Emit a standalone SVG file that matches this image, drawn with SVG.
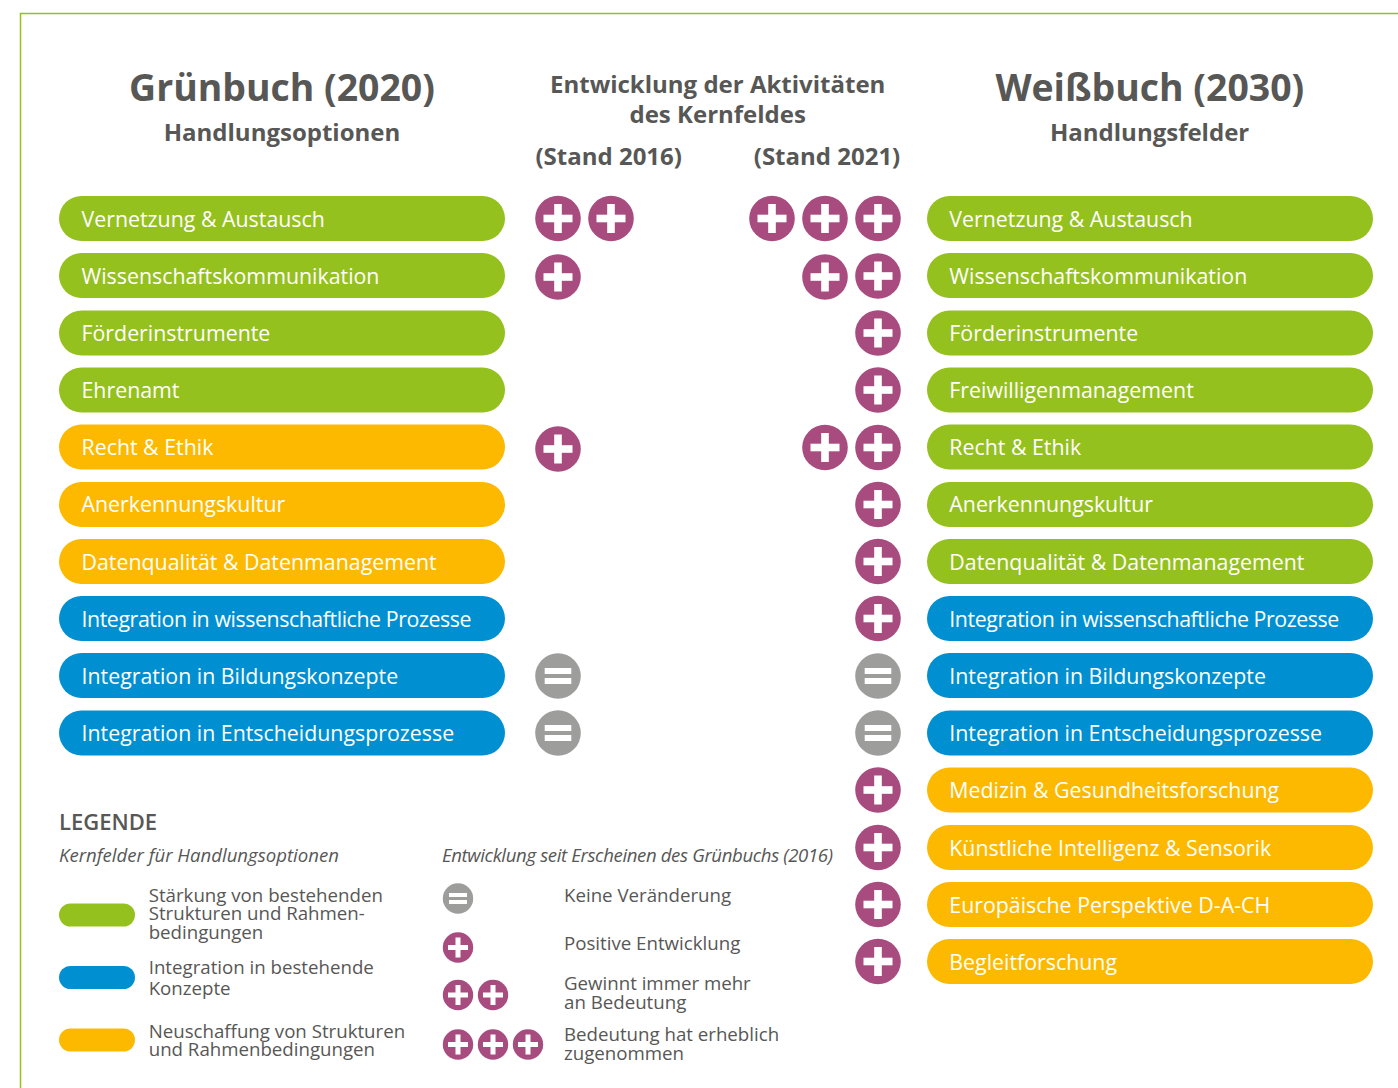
<svg xmlns="http://www.w3.org/2000/svg" width="1398" height="1088" viewBox="0 0 1398 1088">
<style>
text{font-family:"Open Sans","Liberation Sans",sans-serif;fill:#575756}
.h1{font-size:37.4px;font-weight:700;text-anchor:middle}
.h2{font-size:24px;font-weight:700;text-anchor:middle}
.p{font-size:21.35px;fill:#fff}
.l{font-size:18.68px}
.i{font-size:18.6px;font-style:italic}
.g{fill:#95c11f}.b{fill:#0090d1}.y{fill:#fdb900}
</style>
<defs>
<g id="plus"><circle r="22.8" fill="#a84c80"/><rect x="-14.500" y="-3.800" width="29" height="7.600" fill="#fff"/><rect x="-3.800" y="-14.500" width="7.600" height="29" fill="#fff"/></g>
<g id="eq"><circle r="22.8" fill="#9d9d9c"/><rect x="-13.300" y="-8" width="26.600" height="6" fill="#fff"/><rect x="-13.300" y="2" width="26.600" height="6" fill="#fff"/></g>
<g id="plusS"><circle r="15.200" fill="#a84c80"/><rect x="-10" y="-2.500" width="20" height="5" fill="#fff"/><rect x="-2.500" y="-10" width="5" height="20" fill="#fff"/></g>
<g id="eqS"><circle r="15.200" fill="#9d9d9c"/><rect x="-9" y="-5.500" width="18" height="4" fill="#fff"/><rect x="-9" y="1.500" width="18" height="4" fill="#fff"/></g>
</defs>
<rect width="1398" height="1088" fill="#fff"/>
<g id="frame"><path d="M1398 13.500H20.500V1088" fill="none" stroke="#95c11f" stroke-width="1.500"/></g>
<g id="headings">
<text class="h1" x="282" y="101">Grünbuch (2020)</text>
<text class="h2" x="282" y="141">Handlungsoptionen</text>
<text class="h2" x="717.700" y="93">Entwicklung der Aktivitäten</text>
<text class="h2" x="717.700" y="123">des Kernfeldes</text>
<text class="h2" x="608.700" y="165">(Stand 2016)</text>
<text class="h2" x="827" y="165">(Stand 2021)</text>
<text class="h1" x="1149.800" y="101">Weißbuch (2030)</text>
<text class="h2" x="1149.600" y="141">Handlungsfelder</text>
</g>
<g id="left-col">
<g id="l1"><rect class="g" x="59" y="196" width="446" height="45" rx="22.500"/><text class="p" x="81.500" y="227">Vernetzung &amp; Austausch</text></g>
<g id="l2"><rect class="g" x="59" y="253" width="446" height="45" rx="22.500"/><text class="p" x="81.500" y="284">Wissenschaftskommunikation</text></g>
<g id="l3"><rect class="g" x="59" y="310.500" width="446" height="45" rx="22.500"/><text class="p" x="81.500" y="341">Förderinstrumente</text></g>
<g id="l4"><rect class="g" x="59" y="367.500" width="446" height="45" rx="22.500"/><text class="p" x="81.500" y="398">Ehrenamt</text></g>
<g id="l5"><rect class="y" x="59" y="424.500" width="446" height="45" rx="22.500"/><text class="p" x="81.500" y="455">Recht &amp; Ethik</text></g>
<g id="l6"><rect class="y" x="59" y="482" width="446" height="45" rx="22.500"/><text class="p" x="81.500" y="512">Anerkennungskultur</text></g>
<g id="l7"><rect class="y" x="59" y="539" width="446" height="45" rx="22.500"/><text class="p" x="81.500" y="570">Datenqualität &amp; Datenmanagement</text></g>
<g id="l8"><rect class="b" x="59" y="596" width="446" height="45" rx="22.500"/><text class="p" x="81.500" y="627" textLength="390">Integration in wissenschaftliche Prozesse</text></g>
<g id="l9"><rect class="b" x="59" y="653" width="446" height="45" rx="22.500"/><text class="p" x="81.500" y="684">Integration in Bildungskonzepte</text></g>
<g id="l10"><rect class="b" x="59" y="710.500" width="446" height="45" rx="22.500"/><text class="p" x="81.500" y="741">Integration in Entscheidungsprozesse</text></g>
</g>
<g id="right-col">
<g id="r1"><rect class="g" x="927" y="196" width="446" height="45" rx="22.500"/><text class="p" x="949.300" y="227">Vernetzung &amp; Austausch</text></g>
<g id="r2"><rect class="g" x="927" y="253" width="446" height="45" rx="22.500"/><text class="p" x="949.300" y="284">Wissenschaftskommunikation</text></g>
<g id="r3"><rect class="g" x="927" y="310.500" width="446" height="45" rx="22.500"/><text class="p" x="949.300" y="341">Förderinstrumente</text></g>
<g id="r4"><rect class="g" x="927" y="367.500" width="446" height="45" rx="22.500"/><text class="p" x="949.300" y="398">Freiwilligenmanagement</text></g>
<g id="r5"><rect class="g" x="927" y="424.500" width="446" height="45" rx="22.500"/><text class="p" x="949.300" y="455">Recht &amp; Ethik</text></g>
<g id="r6"><rect class="g" x="927" y="482" width="446" height="45" rx="22.500"/><text class="p" x="949.300" y="512">Anerkennungskultur</text></g>
<g id="r7"><rect class="g" x="927" y="539" width="446" height="45" rx="22.500"/><text class="p" x="949.300" y="570">Datenqualität &amp; Datenmanagement</text></g>
<g id="r8"><rect class="b" x="927" y="596" width="446" height="45" rx="22.500"/><text class="p" x="949.300" y="627" textLength="390">Integration in wissenschaftliche Prozesse</text></g>
<g id="r9"><rect class="b" x="927" y="653" width="446" height="45" rx="22.500"/><text class="p" x="949.300" y="684">Integration in Bildungskonzepte</text></g>
<g id="r10"><rect class="b" x="927" y="710.500" width="446" height="45" rx="22.500"/><text class="p" x="949.300" y="741">Integration in Entscheidungsprozesse</text></g>
<g id="r11"><rect class="y" x="927" y="767.500" width="446" height="45" rx="22.500"/><text class="p" x="949.300" y="798">Medizin &amp; Gesundheitsforschung</text></g>
<g id="r12"><rect class="y" x="927" y="825" width="446" height="45" rx="22.500"/><text class="p" x="949.300" y="856">Künstliche Intelligenz &amp; Sensorik</text></g>
<g id="r13"><rect class="y" x="927" y="882" width="446" height="45" rx="22.500"/><text class="p" x="949.300" y="913">Europäische Perspektive D-A-CH</text></g>
<g id="r14"><rect class="y" x="927" y="939" width="446" height="45" rx="22.500"/><text class="p" x="949.300" y="970">Begleitforschung</text></g>
</g>
<g id="marks-2016">
<use href="#plus" x="558" y="218.500"/><use href="#plus" x="611" y="218.500"/>
<use href="#plus" x="558" y="277"/>
<use href="#plus" x="558" y="449"/>
<use href="#eq" x="558" y="676"/>
<use href="#eq" x="558" y="733"/>
</g>
<g id="marks-2021">
<use href="#plus" x="772" y="218.500"/><use href="#plus" x="825" y="218.500"/><use href="#plus" x="878" y="218.500"/>
<use href="#plus" x="825" y="277"/><use href="#plus" x="878" y="276"/>
<use href="#plus" x="878" y="333"/>
<use href="#plus" x="878" y="390"/>
<use href="#plus" x="825" y="447.500"/><use href="#plus" x="878" y="447.500"/>
<use href="#plus" x="878" y="504.500"/>
<use href="#plus" x="878" y="561.500"/>
<use href="#plus" x="878" y="618.500"/>
<use href="#eq" x="878" y="676"/>
<use href="#eq" x="878" y="733"/>
<use href="#plus" x="878" y="790"/>
<use href="#plus" x="878" y="847.500"/>
<use href="#plus" x="878" y="904.500"/>
<use href="#plus" x="878" y="961.500"/>
</g>
<g id="legend-kernfelder">
<text x="59" y="830" font-size="22" font-weight="600">LEGENDE</text>
<text class="i" x="59" y="862">Kernfelder für Handlungsoptionen</text>
<rect class="g" x="59" y="903.500" width="76" height="23" rx="11.500"/>
<text class="l" x="148.700" y="902">Stärkung von bestehenden</text>
<text class="l" x="148.700" y="920">Strukturen und Rahmen-</text>
<text class="l" x="148.700" y="939">bedingungen</text>
<rect class="b" x="59" y="966" width="76" height="23" rx="11.500"/>
<text class="l" x="148.700" y="974">Integration in bestehende</text>
<text class="l" x="148.700" y="995">Konzepte</text>
<rect class="y" x="59" y="1028.500" width="76" height="23" rx="11.500"/>
<text class="l" x="148.700" y="1038">Neuschaffung von Strukturen</text>
<text class="l" x="148.700" y="1056">und Rahmenbedingungen</text>
</g>
<g id="legend-entwicklung">
<text class="i" x="442" y="862" textLength="391">Entwicklung seit Erscheinen des Grünbuchs (2016)</text>
<use href="#eqS" x="458" y="898.500"/>
<text class="l" x="564" y="902">Keine Veränderung</text>
<use href="#plusS" x="458" y="947.500"/>
<text class="l" x="564" y="950">Positive Entwicklung</text>
<use href="#plusS" x="458" y="995"/><use href="#plusS" x="493" y="995"/>
<text class="l" x="564" y="990">Gewinnt immer mehr</text>
<text class="l" x="564" y="1009">an Bedeutung</text>
<use href="#plusS" x="458" y="1044.500"/><use href="#plusS" x="493" y="1044.500"/><use href="#plusS" x="528" y="1044.500"/>
<text class="l" x="564" y="1041">Bedeutung hat erheblich</text>
<text class="l" x="564" y="1060">zugenommen</text>
</g>
</svg>
